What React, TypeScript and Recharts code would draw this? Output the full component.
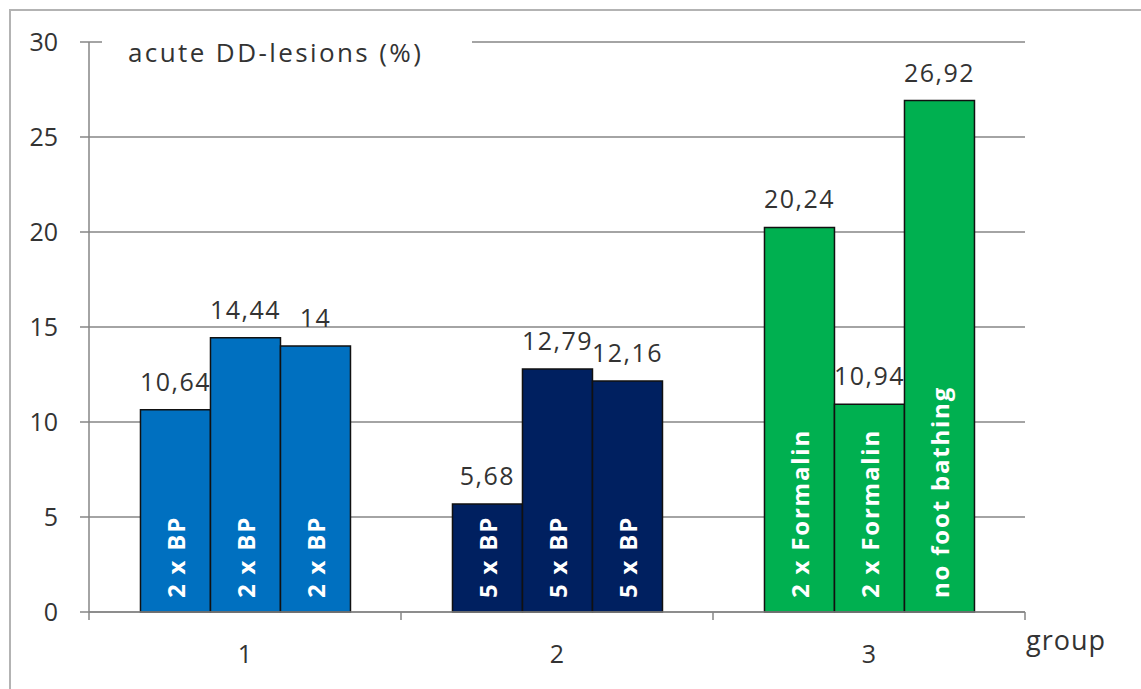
import { BarChart, Bar, XAxis, YAxis, CartesianGrid, Cell, LabelList } from 'recharts';

const groups = ['1', '2', '3'];
const firstBar = [10.64, 5.68, 20.24];
const secondBar = [14.44, 12.79, 10.94];
const thirdBar = [14, 12.16, 26.92];
const firstText = ['2 x BP', '5 x BP', '2 x Formalin'];
const secondText = ['2 x BP', '5 x BP', '2 x Formalin'];
const thirdText = ['2 x BP', '5 x BP', 'no foot bathing'];
const groupColors = ['#0070C0', '#002060', '#00B050'];
const yTicks = [0, 5, 10, 15, 20, 25, 30];

const W = 1141;
const H = 689;
const margin = { top: 42, right: 116, bottom: 37, left: 9 };
const yAxisWidth = 80;
const FONT = '"Open Sans", sans-serif';

const data = groups.map((g, i) => ({
  group: g,
  a: firstBar[i],
  b: secondBar[i],
  c: thirdBar[i],
  ta: firstText[i],
  tb: secondText[i],
  tc: thirdText[i],
}));

const fmt = (v: any) => String(v).replace('.', ',');

// rotated white text at the foot of each bar
function InnerLabel(props: any) {
  const { x, y, width, height, value } = props;
  const cx = x + width / 2;
  const by = y + height - 14;
  return (
    <text
      x={cx}
      y={by}
      transform={`rotate(-90 ${cx} ${by})`}
      textAnchor="start"
      dominantBaseline="central"
      fill="#fff"
      fontWeight="bold"
      fontSize={24}
      letterSpacing={1.8}
      fontFamily={FONT}
    >
      {value}
    </text>
  );
}

// Excel style: tick marks between groups, label in the middle
function GroupTick(props: any) {
  const { x, y, payload, index } = props;
  const band = (W - margin.left - margin.right - yAxisWidth) / groups.length;
  const left = x - band / 2;
  return (
    <g>
      <line x1={left} x2={left} y1={y - 8} y2={y} stroke="#868686" strokeWidth={1.5} />
      {index === groups.length - 1 && (
        <line x1={x + band / 2} x2={x + band / 2} y1={y - 8} y2={y} stroke="#868686" strokeWidth={1.5} />
      )}
      <text x={x} y={y + 43} textAnchor="middle" fill="#333" fontSize={25} fontFamily={FONT}>
        {payload.value}
      </text>
    </g>
  );
}

export default function App() {
  return (
    <div style={{ position: 'absolute', left: 0, top: 0, width: W, height: H, overflow: 'hidden', background: '#fff' }}>
      <div
        style={{
          position: 'absolute',
          left: 9,
          top: 9,
          width: W + 20,
          height: H + 20,
          border: '2px solid #b3b3b3',
          boxSizing: 'border-box',
        }}
      />
      <BarChart
        width={W}
        height={H}
        data={data}
        margin={margin}
        barGap={0}
        barCategoryGap="16.5%"
        style={{ position: 'absolute', left: 0, top: 0 }}
      >
        <CartesianGrid vertical={false} stroke="#868686" strokeWidth={1.5} />
        <XAxis
          dataKey="group"
          axisLine={{ stroke: '#868686', strokeWidth: 1.5 }}
          tickLine={false}
          tick={<GroupTick />}
          interval={0}
          height={40}
        />
        <YAxis
          domain={[0, 30]}
          ticks={yTicks}
          width={yAxisWidth}
          axisLine={{ stroke: '#868686', strokeWidth: 1.5 }}
          tickLine={{ stroke: '#868686', strokeWidth: 1.5 }}
          tickSize={9}
          tickMargin={22}
          tick={{ fill: '#333', fontSize: 25, fontFamily: FONT }}
        />
        {(['a', 'b', 'c'] as const).map((k) => (
          <Bar key={k} dataKey={k} isAnimationActive={false} stroke="#111" strokeWidth={1.5}>
            {data.map((d, i) => (
              <Cell key={i} fill={groupColors[i]} />
            ))}
            <LabelList dataKey={'t' + k} content={<InnerLabel />} />
            <LabelList
              dataKey={k}
              position="top"
              offset={19}
              formatter={fmt}
              fill="#333"
              fontSize={25}
              letterSpacing={1.5}
              fontFamily={FONT}
            />
          </Bar>
        ))}
      </BarChart>
      <div
        style={{
          position: 'absolute',
          left: 102,
          top: 34,
          width: 370,
          height: 36,
          background: '#fff',
          fontFamily: FONT,
          fontSize: 26,
          letterSpacing: 2.4,
          color: '#333',
          lineHeight: '36px',
          paddingLeft: 26,
          boxSizing: 'border-box',
          whiteSpace: 'nowrap',
        }}
      >
        acute DD-lesions (%)
      </div>
      <div
        style={{
          position: 'absolute',
          left: 1026,
          top: 622,
          fontFamily: FONT,
          fontSize: 27,
          letterSpacing: 1,
          color: '#333',
          lineHeight: '36px',
        }}
      >
        group
      </div>
    </div>
  );
}
